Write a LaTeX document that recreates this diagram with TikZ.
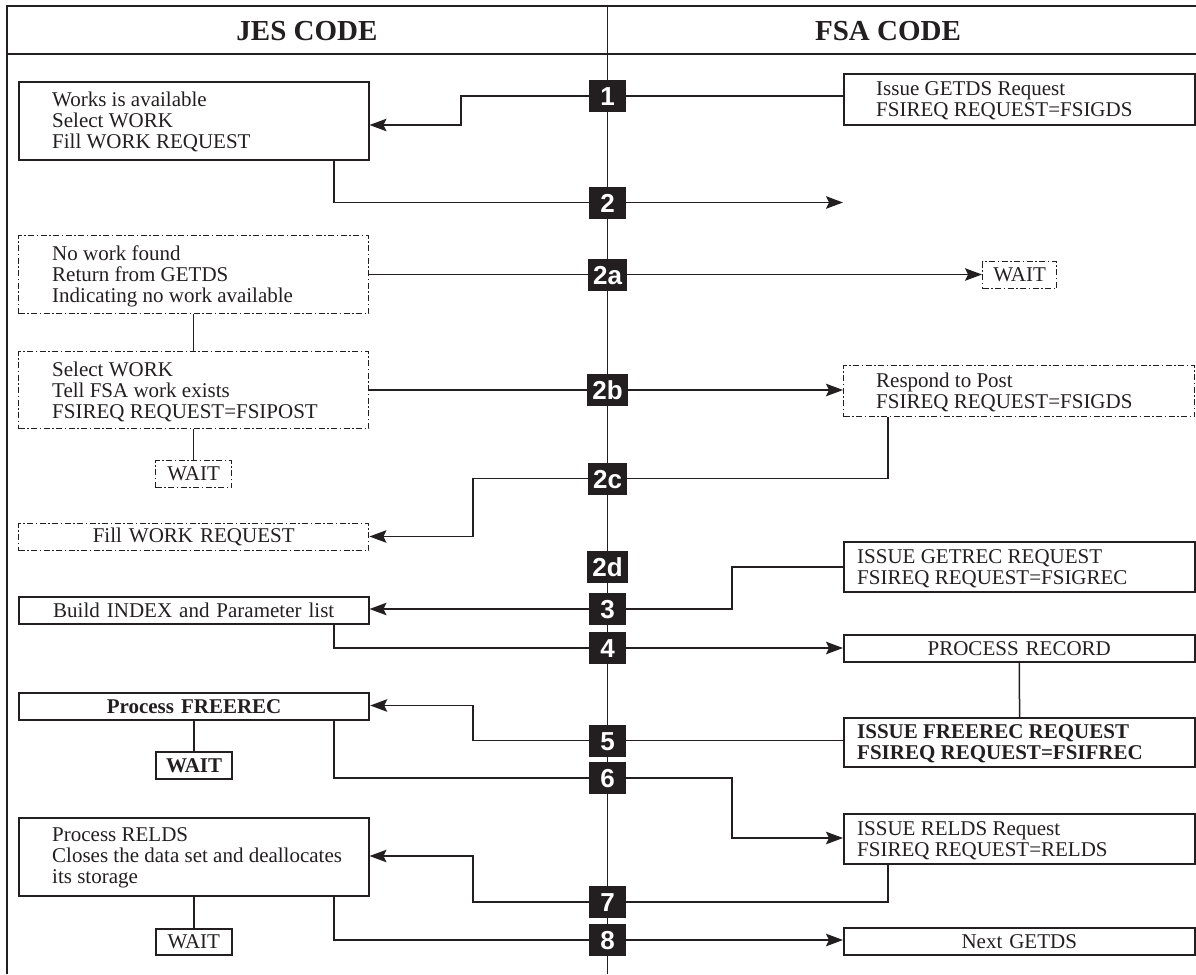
\documentclass[tikz,border=0pt]{standalone}
\usepackage{fontspec}
\setmainfont{Liberation Serif}
\newfontfamily\badgesans{Liberation Sans}
\usetikzlibrary{arrows.meta,backgrounds}
\definecolor{ink}{HTML}{231F20}
\tikzset{
  line/.style={draw=ink, line width=1.5pt},
  arr/.style={line, -{Stealth[length=17pt,width=12.5pt,inset=3pt]}},
  frame/.style={draw=ink, line width=2pt},
  box/.style={draw=ink, line width=1.5pt, rectangle, anchor=north west,
    inner xsep=0pt, inner ysep=0pt, text=ink, font=\fontsize{21}{21}\selectfont},
  dbox/.style={box, line width=1.4pt, dash pattern=on 6pt off 2.5pt on 1.5pt off 2.5pt},
  heavy/.style={line width=2.2pt, font=\fontsize{21}{21}\selectfont\bfseries},
  sz/.style 2 args={text width=#1, minimum width=#1, minimum height=#2},
  ctr/.style={align=center},
  txt/.style={text=ink, font=\fontsize{21}{21}\selectfont, inner sep=0pt,
    anchor=west, align=left, yshift=-1.5pt},
  btxt/.style={txt, font=\fontsize{21}{21}\selectfont\bfseries},
  badge/.style={fill=ink, text=white, font=\badgesans\fontsize{26}{26}\selectfont\bfseries,
    inner xsep=5.5pt, inner ysep=0pt, text height=19pt, text depth=0pt,
    minimum width=37pt, minimum height=32pt},
  hdr/.style={text=ink, font=\fontsize{29}{29}\selectfont\bfseries, inner sep=0pt}
}
\begin{document}
\begin{tikzpicture}[x=1pt,y=-1pt]
\useasboundingbox (0,0) rectangle (1196,974);

% header texts
\node[hdr] (hj) at (307,31) {JES CODE};
\node[hdr] (hf) at (888,31) {FSA CODE};

% left (JES) boxes
\node[box, sz={350pt}{78pt}] (B1) at (18,81) {};
\node[txt] (B1t) at ([xshift=34pt]B1.west) {Works is available\\Select WORK\\Fill WORK REQUEST};
\node[dbox, sz={350pt}{78pt}] (B2a) at (18,235) {};
\node[txt] (B2at) at ([xshift=34pt]B2a.west) {No work found\\Return from GETDS\\Indicating no work available};
\node[dbox, sz={350pt}{77pt}] (B2b) at (18,351) {};
\node[txt] (B2bt) at ([xshift=34pt]B2b.west) {Select WORK\\Tell FSA work exists\\FSIREQ REQUEST=FSIPOST};
\node[dbox, sz={76pt}{27pt}, ctr] (W2) at (155,460) {WAIT};
\node[dbox, sz={350pt}{27pt}, ctr] (BFill) at (18,523) {Fill WORK REQUEST};
\node[box, sz={350pt}{27pt}, ctr] (BBuild) at (18,596) {Build INDEX and Parameter list};
\node[box, heavy, sz={350pt}{27pt}, ctr] (BFree) at (18,692) {Process FREEREC};
\node[box, heavy, sz={76pt}{27pt}, ctr] (WAITb) at (155,751) {WAIT};
\node[box, sz={350pt}{78pt}] (BRelds) at (18,817) {};
\node[txt] (BReldst) at ([xshift=34pt]BRelds.west) {Process RELDS\\Closes the data set and deallocates\\its storage};
\node[box, sz={76pt}{26pt}, ctr] (WAITc) at (155,928) {WAIT};

% right (FSA) boxes
\node[box, sz={351pt}{51pt}] (R1) at (843,73) {};
\node[txt] (R1t) at ([xshift=33pt]R1.west) {Issue GETDS Request\\FSIREQ REQUEST=FSIGDS};
\node[dbox, sz={74pt}{27pt}, ctr] (W2a) at (982,261) {WAIT};
\node[dbox, sz={351pt}{51pt}] (Resp) at (843,365) {};
\node[txt] (Respt) at ([xshift=33pt]Resp.west) {Respond to Post\\FSIREQ REQUEST=FSIGDS};
\node[box, sz={351pt}{50pt}] (GETREC) at (843,541) {};
\node[txt] (GETRECt) at ([xshift=14pt]GETREC.west) {ISSUE GETREC REQUEST\\FSIREQ REQUEST=FSIGREC};
\node[box, sz={351pt}{27pt}, ctr] (PROC) at (843,634) {PROCESS RECORD};
\node[box, heavy, sz={351pt}{49pt}] (FREE) at (843,717) {};
\node[btxt] (FREEt) at ([xshift=14pt]FREE.west) {ISSUE FREEREC REQUEST\\FSIREQ REQUEST=FSIFREC};
\node[box, sz={351pt}{50pt}] (RELDS) at (843,813) {};
\node[txt] (RELDSt) at ([xshift=14pt]RELDS.west) {ISSUE RELDS Request\\FSIREQ REQUEST=RELDS};
\node[box, sz={351pt}{27pt}, ctr] (NEXT) at (843,927) {Next GETDS};

% step badges
\node[badge] (b1) at (607.5,96) {1};
\node[badge] (b2) at (607.5,202.5) {2};
\node[badge] (b2a) at (607.5,274.5) {2a};
\node[badge] (b2b) at (607.5,390) {2b};
\node[badge] (b2c) at (607.5,478.5) {2c};
\node[badge] (b2d) at (607.5,567) {2d};
\node[badge] (b3) at (607.5,609) {3};
\node[badge] (b4) at (607.5,648) {4};
\node[badge] (b5) at (607.5,740.5) {5};
\node[badge] (b6) at (607.5,778) {6};
\node[badge] (b7) at (607.5,902) {7};
\node[badge] (b8) at (607.5,940) {8};

% helper coordinates
\coordinate (xa) at (334,0);
\coordinate (xs) at (888,0);
\coordinate (k1) at (461,125);
\coordinate (e2) at (843,202.5);
\coordinate (k2c) at (473,536.5);
\coordinate (k3) at (732,609);
\coordinate (k5) at (473,705.5);
\coordinate (k6) at (732,838);
\coordinate (k7) at (473,856);
\coordinate (ftl) at (7,6);
\coordinate (ftr) at (1196,6);
\coordinate (fbl) at (7,974);
\coordinate (hl) at (7,54);
\coordinate (hr) at (1196,54);
\coordinate (dt) at (607.5,6);
\coordinate (db) at (607.5,974);

\begin{pgfonlayer}{background}
  \draw[frame] (ftr) -- (ftl) -- (fbl);
  \draw[frame] (hl) -- (hr);
  \draw[draw=ink, line width=1.5pt] (dt) -- (db);

  % 1
  \draw[arr] (R1.west |- b1.center) -- (b1.center) -| (k1) -- (B1.east |- k1);
  % 2
  \draw[arr] (B1.south -| xa) |- (b2.center) -- (e2);
  % 2a
  \draw[arr] (B2a.east |- b2a.center) -- (W2a.west |- b2a.center);
  \draw[line] (B2a.south) -- (B2b.north);
  % 2b
  \draw[arr] (B2b.east |- b2b.center) -- (Resp.west |- b2b.center);
  \draw[line] (B2b.south) -- (W2.north);
  % 2c
  \draw[arr] (Resp.south -| xs) |- (b2c.center) -| (k2c) -- (BFill.east |- k2c);
  % 3
  \draw[arr] (GETREC.west) -| (k3) -- (b3.center) -- (BBuild.east |- b3.center);
  % 4
  \draw[arr] (BBuild.south -| xa) |- (b4.center) -- (PROC.west |- b4.center);
  \draw[line] (PROC.south) -- (FREE.north);
  % 5
  \draw[arr] (FREE.west |- b5.center) -- (b5.center) -| (k5) -- (BFree.east |- k5);
  \draw[line] (BFree.south) -- (WAITb.north);
  % 6
  \draw[arr] (BFree.south -| xa) |- (b6.center) -| (k6) -- (RELDS.west |- k6);
  % 7
  \draw[arr] (RELDS.south -| xs) |- (b7.center) -| (k7) -- (BRelds.east |- k7);
  \draw[line] (BRelds.south) -- (WAITc.north);
  % 8
  \draw[arr] (BRelds.south -| xa) |- (b8.center) -- (NEXT.west |- b8.center);
\end{pgfonlayer}
\end{tikzpicture}
\end{document}
